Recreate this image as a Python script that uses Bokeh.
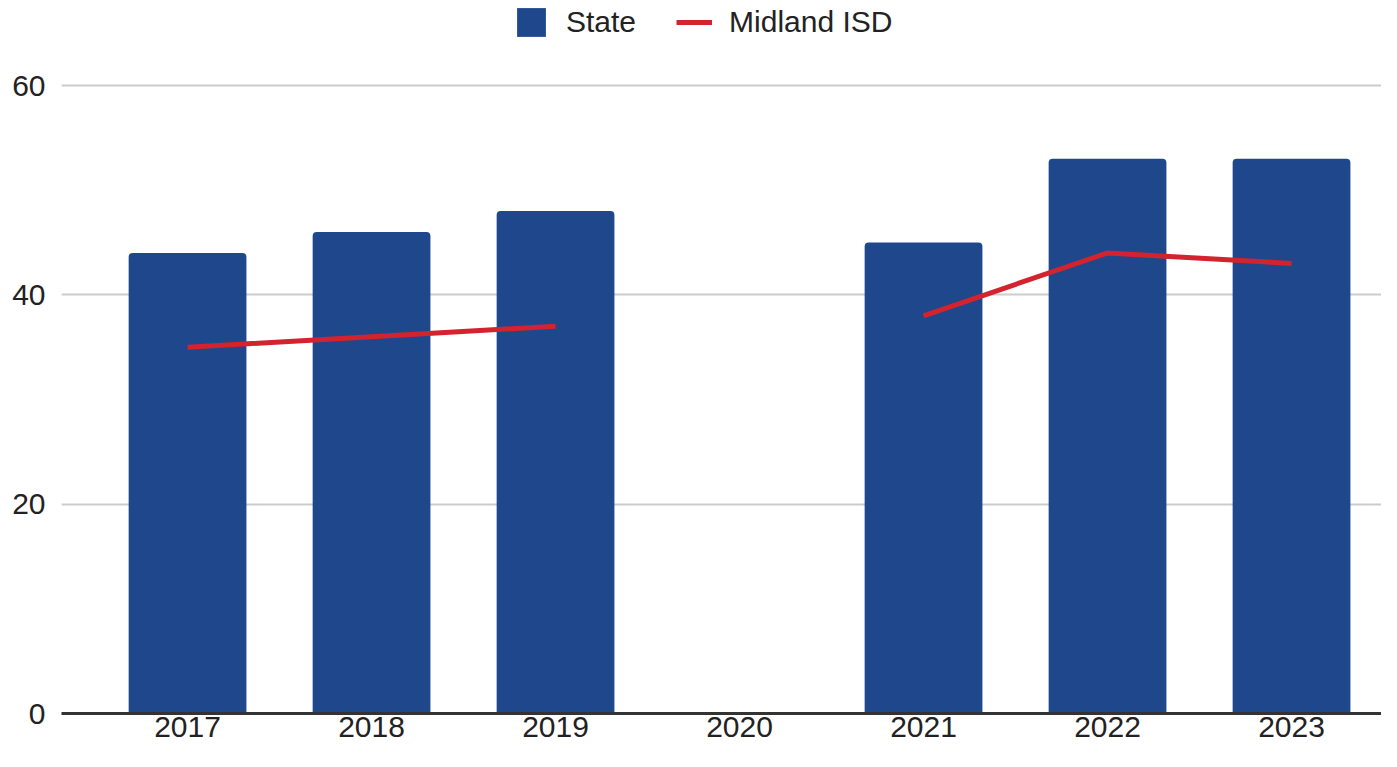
import numpy as np
from bokeh.plotting import figure
from bokeh.models import ColumnDataSource, Range1d, FixedTicker, Legend, LegendItem
from bokeh.embed import file_html
from bokeh.resources import INLINE

years = [2017, 2018, 2019, 2020, 2021, 2022, 2023]
state = [44, 46, 48, np.nan, 45, 53, 53]
midland = [35, 36, 37, np.nan, 38, 44, 43]
y_ticks = [0, 20, 40, 60]

src = ColumnDataSource(data=dict(x=np.array(years, dtype=float),
                                 state=np.array(state, dtype=float),
                                 midland=np.array(midland, dtype=float)))

FONT = "Liberation Sans"
FS = "30px"
W, H = 1381, 751
BOTTOM = 38
frame_h = H - BOTTOM
top_px = 85  # pixel row of the 60 gridline
y_end = 60 * frame_h / (frame_h - top_px)

p = figure(width=W, height=H, output_backend="svg", toolbar_location=None,
           x_range=Range1d(2016.315, 2023.489), y_range=Range1d(0, y_end),
           min_border_left=61, min_border_right=0, min_border_top=0,
           min_border_bottom=BOTTOM)
p.outline_line_color = None
p.background_fill_color = "white"

bars = p.vbar(x="x", top="state", width=0.64, bottom=0, source=src,
              fill_color="#1e478c", line_color=None, border_radius=(4, 4, 0, 0))
ln = p.line(x="x", y="midland", source=src, line_color="#d3232e", line_width=5)

p.xgrid.grid_line_color = None
p.ygrid.grid_line_color = "#cccccc"
p.ygrid.grid_line_width = 2
p.ygrid.ticker = FixedTicker(ticks=y_ticks)

p.xaxis.ticker = FixedTicker(ticks=years)
p.xaxis.major_label_overrides = {y: str(y) for y in years}
p.xaxis.axis_line_color = "#333333"
p.xaxis.axis_line_width = 3
p.xaxis.major_tick_line_color = None
p.xaxis.minor_tick_line_color = None
p.xaxis.major_tick_out = 0
p.xaxis.major_tick_in = 0
p.xaxis.major_label_standoff = 3
p.xaxis.major_label_text_font = FONT
p.xaxis.major_label_text_font_size = FS
p.xaxis.major_label_text_color = "#222222"

p.yaxis.ticker = FixedTicker(ticks=y_ticks)
p.yaxis.axis_line_color = None
p.yaxis.major_tick_line_color = None
p.yaxis.minor_tick_line_color = None
p.yaxis.major_tick_out = 0
p.yaxis.major_tick_in = 0
p.yaxis.major_label_standoff = 16
p.yaxis.major_label_text_font = FONT
p.yaxis.major_label_text_font_size = FS
p.yaxis.major_label_text_color = "#222222"

legend = Legend(items=[LegendItem(label="State", renderers=[bars]),
                       LegendItem(label="Midland ISD", renderers=[ln])],
                orientation="horizontal", location=(452, frame_h - 40),
                glyph_width=36, glyph_height=36, label_standoff=17, spacing=40,
                padding=0, margin=0, border_line_color=None,
                background_fill_alpha=0,
                label_text_font=FONT, label_text_font_size=FS,
                label_text_color="#222222")
p.add_layout(legend, "center")

open("out.html", "w").write(file_html(p, INLINE))
